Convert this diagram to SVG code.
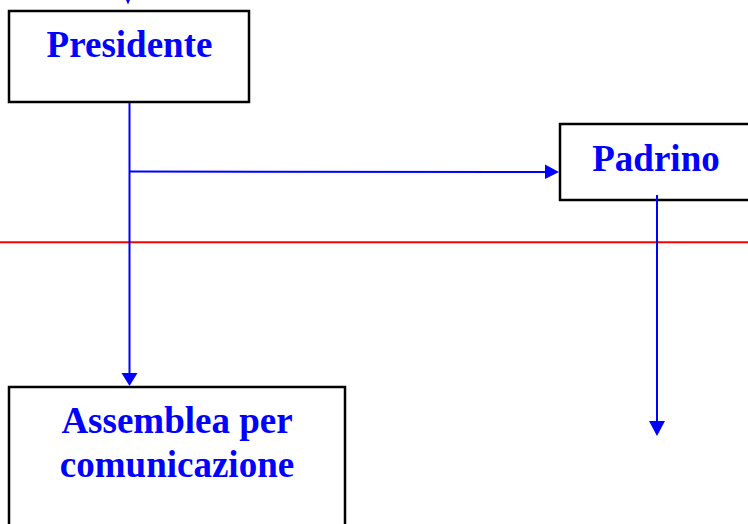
<svg xmlns="http://www.w3.org/2000/svg" width="748" height="524" viewBox="0 0 748 524">
<defs>
<style>
.box{fill:#fff;stroke:#000;stroke-width:2.5}
.lbl{font-family:"Liberation Serif","Times New Roman",serif;font-weight:bold;font-size:37px;fill:#0000ff;text-anchor:middle}
.conn{stroke:#0000ff;stroke-width:2;fill:none}
.head{fill:#0000ff}
</style>
</defs>
<line x1="0" y1="242.3" x2="748" y2="242.3" stroke="#ff0000" stroke-width="2"/>
<g id="presidente">
<rect class="box" x="9" y="11" width="240" height="91"/>
<text class="lbl" x="129.5" y="57">Presidente</text>
</g>
<g id="padrino">
<rect class="box" x="560" y="124" width="200" height="76"/>
<text class="lbl" x="656" y="171">Padrino</text>
</g>
<g id="assemblea">
<rect class="box" x="9" y="387" width="336" height="150"/>
<text class="lbl" x="177" y="433">Assemblea per</text>
<text class="lbl" x="177" y="477">comunicazione</text>
</g>
<g id="connectors">
<polygon class="head" points="122,-9 134,-9 128,4.5"/>
<line class="conn" x1="129.5" y1="103" x2="129.5" y2="374"/>
<polygon class="head" points="121.5,373 137.5,373 129.5,386"/>
<line class="conn" x1="129.5" y1="171.5" x2="546" y2="172"/>
<polygon class="head" points="545,164.5 559,172 545,179"/>
<line class="conn" x1="657" y1="195" x2="657" y2="422"/>
<polygon class="head" points="649,421 665,421 657,436"/>
</g>
</svg>
